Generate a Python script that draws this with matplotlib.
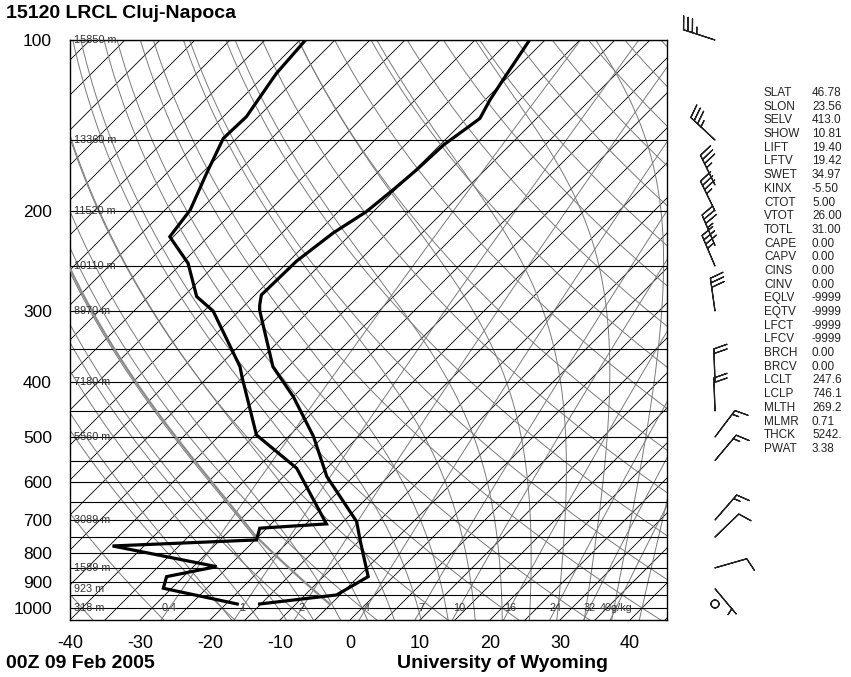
import numpy as np
import matplotlib
matplotlib.use('Agg')
import matplotlib.pyplot as plt
from matplotlib.ticker import NullLocator, FixedLocator

plt.rcParams['font.family'] = ['Liberation Sans', 'DejaVu Sans']

# ---------------- data ----------------
station_title = '15120 LRCL Cluj-Napoca'
date_label = '00Z 09 Feb 2005'
credit_label = 'University of Wyoming'

temp_p = [100, 117.6, 127.5, 137.4, 143, 153, 169.4, 183.7, 200.6, 218.7, 245, 281.1,
          292.8, 298.8, 376, 424.6, 499.3, 587, 704.7, 759, 880.7, 948.6, 984]
temp_T = [-57.2, -55.3, -54.3, -53.1, -53.6, -54.5, -54.8, -55.3, -56.0, -57.7, -58.9, -59.1,
          -57.9, -57.2, -47.2, -40.0, -31.4, -23.8, -13.1, -10.0, -3.6, -5.5, -15.2]

dew_p = [100, 114.5, 136.5, 149, 171.7, 199.2, 222, 247.2, 283, 300, 376, 391.5, 495.9,
         567.5, 711.2, 723.7, 759, 777.7, 845.7, 880.7, 923.2, 984]
dew_T = [-89.2, -88.6, -86.7, -86.9, -84.3, -81.4, -80.5, -74.1, -68.1, -63.7, -51.9, -50.2,
         -39.8, -29.3, -17.1, -26.0, -24.8, -44.5, -26.7, -32.4, -31.2, -18.4]

hgt_p = [100, 150, 200, 250, 300, 400, 500, 700, 850, 925, 1000]
hgt_lbl = ['15850 m', '13360 m', '11520 m', '10110 m', '8970 m', '7180 m', '5560 m',
           '3089 m', '1589 m', '923 m', '318 m']

isobar_p = [100, 150, 200, 250, 300, 350, 400, 450, 500, 550, 600, 650, 700, 750, 800,
            850, 900, 950, 1000]
ptick = [100, 200, 300, 400, 500, 600, 700, 800, 900, 1000]
ttick = [-40, -30, -20, -10, 0, 10, 20, 30, 40]

isotherm_T = list(range(-125, 50, 5))
dry_theta_C = list(range(-40, 230, 10))
moist_thetaw_C = list(range(-20, 41, 4))
mix_w = [0.4, 1, 2, 4, 7, 10, 16, 24, 32, 40]
mix_lbl = ['0.4', '1', '2', '4', '7', '10', '16', '24', '32', '40g/kg']

# parcel (mixed layer): theta, LCL
parcel_theta = 269.2
parcel_lclp = 746.1
parcel_lclt = 247.6
parcel_psfc = 984

barb_p = [100, 150, 180, 200, 230, 250, 300, 400, 450, 500, 550, 700, 750, 850, 925, 984]
barb_dir = [288, 313, 334, 334, 337, 337, 352, 358, 358, 37, 40, 41, 46, 74, 140, 0]
barb_spd = [35, 35, 35, 35, 35, 35, 30, 20, 20, 15, 15, 15, 10, 10, 5, 0]

stat_names = ['SLAT', 'SLON', 'SELV', 'SHOW', 'LIFT', 'LFTV', 'SWET', 'KINX', 'CTOT', 'VTOT',
              'TOTL', 'CAPE', 'CAPV', 'CINS', 'CINV', 'EQLV', 'EQTV', 'LFCT', 'LFCV', 'BRCH',
              'BRCV', 'LCLT', 'LCLP', 'MLTH', 'MLMR', 'THCK', 'PWAT']
stat_vals = ['46.78', '23.56', '413.0', '10.81', '19.40', '19.42', '34.97', '-5.50', '5.00',
             '26.00', '31.00', '0.00', '0.00', '0.00', '0.00', '-9999', '-9999', '-9999',
             '-9999', '0.00', '0.00', '247.6', '746.1', '269.2', '0.71', '5242.', '3.38']

# ---------------- geometry ----------------
W, H = 851, 677
L, R, TOP, BOT = 70, 666.7, 40, 620
P_BOT, P_TOP = 1050.0, 100.0
XMIN = -40.0
XMAX = XMIN + (R - L) / 7.0
K = ((BOT - TOP) / np.log(P_BOT / P_TOP)) / 7.0   # 45 degree skew


def skx(T, p):
    return np.asarray(T, float) + K * np.log(P_BOT / np.asarray(p, float))


fig = plt.figure(figsize=(W / 100, H / 100), dpi=100)
ax = fig.add_axes([L / W, 1 - BOT / H, (R - L) / W, (BOT - TOP) / H])
ax.set_yscale('log')
ax.set_ylim(P_BOT, P_TOP)
ax.set_xlim(XMIN, XMAX)

pp = np.logspace(np.log10(P_BOT), np.log10(P_TOP), 300)
GRAY = '#7a7a7a'

for p in isobar_p:
    ax.axhline(p, color='black', lw=0.8, zorder=2)

for t in isotherm_T:
    ax.plot(skx(np.full_like(pp, t), pp), pp, color='black', lw=0.6, zorder=1)

for th in dry_theta_C:
    T = (th + 273.15) * (pp / 1000.0) ** 0.2857 - 273.15
    ax.plot(skx(T, pp), pp, color=GRAY, lw=0.7, zorder=1)

Rd, Cp, Lv, EPS = 287.04, 1005.7, 2.501e6, 0.622


def rsat(Tk, p):
    es = 6.112 * np.exp(17.67 * (Tk - 273.15) / (Tk - 29.65))
    return EPS * es / (p - es)


def dTdp(Tk, p):
    r = rsat(Tk, p)
    return (Rd * Tk + Lv * r) / (Cp + Lv * Lv * r * EPS / (Rd * Tk * Tk)) / p


def moist_path(Tk0, p0, p_arr):
    out = [Tk0]
    Tk = Tk0
    pc = p0
    for pn in p_arr[1:]:
        h = pn - pc
        k1 = dTdp(Tk, pc)
        k2 = dTdp(Tk + 0.5 * h * k1, pc + 0.5 * h)
        k3 = dTdp(Tk + 0.5 * h * k2, pc + 0.5 * h)
        k4 = dTdp(Tk + h * k3, pn)
        Tk = Tk + h / 6 * (k1 + 2 * k2 + 2 * k3 + k4)
        pc = pn
        out.append(Tk)
    return np.array(out)


p_up = np.logspace(3, 2, 200)
p_dn = np.linspace(1000, 1050, 20)
for tw in moist_thetaw_C:
    up = moist_path(tw + 273.15, 1000.0, p_up)
    dn = moist_path(tw + 273.15, 1000.0, p_dn)
    pm = np.concatenate([p_dn[::-1], p_up[1:]])
    Tm = np.concatenate([dn[::-1], up[1:]]) - 273.15
    ax.plot(skx(Tm, pm), pm, color=GRAY, lw=0.7, zorder=1)

for w in mix_w:
    e = w * pp / (622.0 + w)
    le = np.log(e / 6.112)
    Td = 243.5 * le / (17.67 - le)
    ax.plot(skx(Td, pp), pp, color=GRAY, lw=0.7, zorder=1)

# parcel path
p_dry = np.linspace(parcel_psfc, parcel_lclp, 30)
T_dry = parcel_theta * (p_dry / 1000.0) ** 0.2857 - 273.15
p_moist = np.logspace(np.log10(parcel_lclp), 2, 150)
T_moist = moist_path(parcel_lclt, parcel_lclp, p_moist) - 273.15
ax.plot(skx(T_dry, p_dry), p_dry, color='#8c8c8c', lw=1.6, zorder=3)
ax.plot(skx(T_moist, p_moist), p_moist, color='#8c8c8c', lw=1.6, zorder=3)

# sounding
ax.plot(skx(temp_T, temp_p), temp_p, color='black', lw=2.3, zorder=5,
        solid_joinstyle='miter')
ax.plot(skx(dew_T, dew_p), dew_p, color='black', lw=2.3, zorder=5,
        solid_joinstyle='miter')

# labels inside
for p, s in zip(hgt_p, hgt_lbl):
    ax.text(XMIN + 0.6, p, s, fontsize=7.8, ha='left', va='center', color='#333333', zorder=4)
for w, s in zip(mix_w, mix_lbl):
    e = w * 1000.0 / (622.0 + w)
    le = np.log(e / 6.112)
    Td = 243.5 * le / (17.67 - le)
    ax.text(float(skx(Td, 1000.0)), 1000.0, s, fontsize=7.8, ha='center', va='center',
            color='#3a3a3a', zorder=4)

ax.yaxis.set_minor_locator(NullLocator())
ax.yaxis.set_major_locator(FixedLocator(ptick))
ax.set_yticklabels([str(p) for p in ptick])
ax.set_xticks(ttick)
ax.set_xticklabels([str(t) for t in ttick])
ax.tick_params(axis='y', length=0, pad=13, labelsize=12.5)
ax.tick_params(axis='x', length=0, pad=11, labelsize=13)
for sp in ax.spines.values():
    sp.set_color('black')
    sp.set_linewidth(1.0)

# barbs
bax = fig.add_axes([680 / W, 1 - BOT / H, 80 / W, (BOT - TOP) / H])
bax.set_yscale('log')
bax.set_ylim(P_BOT, P_TOP)
bax.set_xlim(0, 80)
bax.axis('off')
d = np.radians(barb_dir)
s = np.array(barb_spd, float)
u = -s * np.sin(d)
v = -s * np.cos(d)
bax.barbs(np.full(len(barb_p), 35.0), barb_p, u, v, length=6.9, linewidth=0.9,
          color='#222222', clip_on=False,
          sizes=dict(emptybarb=0.12, spacing=0.14, height=0.4))

# text
fig.text(6 / W, 1 - 14 / H, station_title, fontsize=14, fontweight='bold', va='center')
fig.text(6 / W, 1 - 663 / H, date_label, fontsize=14, fontweight='bold', va='center')
fig.text(503 / W, 1 - 663 / H, credit_label, fontsize=14, fontweight='bold', va='center',
         ha='center')
for i, (n, v_) in enumerate(zip(stat_names, stat_vals)):
    y = 93 + 13.69 * i
    fig.text(764 / W, 1 - y / H, n, fontsize=8.5, va='center', color='#222222')
    fig.text(812 / W, 1 - y / H, v_, fontsize=8.5, va='center', color='#222222')

fig.savefig('out.png', dpi=100)
